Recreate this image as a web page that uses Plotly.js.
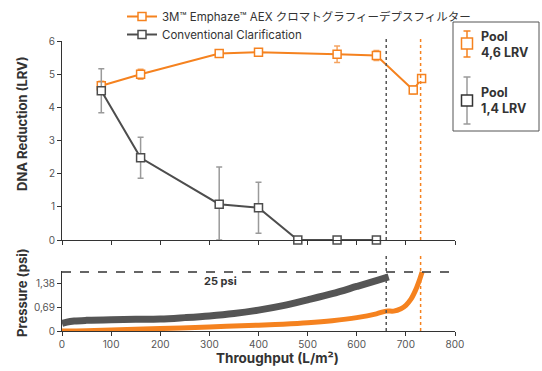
<!DOCTYPE html>
<html>
<head>
<meta charset="utf-8">
<script src="https://cdn.plot.ly/plotly-3.0.1.min.js"></script>
<style>html,body{margin:0;padding:0;background:#fff;}#chart{width:542px;height:371px;}</style>
</head>
<body>
<div id="chart"></div>
<script>
// ---- data ----
const seriesNames = ['3M™ Emphaze™ AEX クロマトグラフィーデプスフィルター', 'Conventional Clarification'];
const lrvXEmphaze = [80, 160, 320, 400, 560, 640, 715, 732];
const lrvEmphaze = [4.65, 5.0, 5.62, 5.66, 5.6, 5.56, 4.52, 4.87];
const lrvErrEmphaze = [0.14, 0.15, 0.05, 0.05, 0.25, 0.15, 0.12, 0.05];
const lrvXConv = [80, 160, 320, 400, 480, 560, 640];
const lrvConv = [4.5, 2.48, 1.08, 0.97, 0, 0, 0];
const lrvErrConv = [0.66, 0.62, 1.12, 0.77, 0, 0.1, 0];
const lrvErrConvMinus = [0.66, 0.62, 1.08, 0.77, 0, 0, 0];
const pressXConv = [0, 10, 25, 50, 100, 150, 200, 250, 300, 350, 400, 450, 500, 550, 600, 640, 665];
const pressConv = [0.22, 0.26, 0.29, 0.31, 0.33, 0.34, 0.35, 0.39, 0.44, 0.51, 0.61, 0.74, 0.91, 1.09, 1.30, 1.47, 1.58];
const pressXEmphaze = [0, 50, 100, 200, 300, 400, 450, 500, 550, 600, 640, 660, 675, 690, 700, 710, 720, 728, 733];
const pressEmphaze = [0.0, 0.01, 0.03, 0.07, 0.12, 0.17, 0.20, 0.24, 0.30, 0.39, 0.50, 0.58, 0.58, 0.65, 0.75, 0.92, 1.20, 1.50, 1.72];
const endpoints = [660, 730];           // gray, orange end-of-run throughput
const pressureLimit = 1.72;             // 25 psi in bar
const pressureLimitLabel = '25 psi';
const pressTickVals = [0, 0.69, 1.38];
const pressTickText = ['0', '0,69', '1,38'];
const poolLabels = ['Pool<br>4,6 LRV', 'Pool<br>1,4 LRV'];
const axisTitles = {lrv: 'DNA Reduction (LRV)', press: 'Pressure (psi)', x: 'Throughput (L/m²)'};

// ---- style ----
const ORANGE = '#F5821F', ORANGE_ERR = '#F5A461', GRAY = '#4D4D4D', GRAY_ERR = '#9A9A9A';
const FONT = "Inter, 'Noto Sans CJK JP', sans-serif";
const W = 542, H = 371, ML = 62, MR = 87, MT = 41, MB = 40;
const PW = W - ML - MR, PH = H - MT - MB;
const px = v => (v - ML) / PW;
const py = v => (H - MB - v) / PH;

const traces = [
  {x: lrvXEmphaze, y: lrvEmphaze, xaxis: 'x', yaxis: 'y', name: seriesNames[0], legend: 'legend', type: 'scatter', mode: 'lines+markers',
   line: {color: ORANGE, width: 2}, marker: {symbol: 'square', size: 8, color: '#fff', line: {color: ORANGE, width: 1.5}},
   error_y: {type: 'data', array: lrvErrEmphaze, color: ORANGE_ERR, thickness: 1.5, width: 3}, cliponaxis: false},
  {x: lrvXConv, y: lrvConv, xaxis: 'x', yaxis: 'y', name: seriesNames[1], legend: 'legend2', type: 'scatter', mode: 'lines+markers',
   line: {color: GRAY, width: 2}, marker: {symbol: 'square', size: 8, color: '#fff', line: {color: GRAY, width: 1.5}},
   error_y: {type: 'data', array: lrvErrConv, arrayminus: lrvErrConvMinus, color: GRAY_ERR, thickness: 1.5, width: 3}, cliponaxis: false},
  {x: pressXConv, y: pressConv, xaxis: 'x2', yaxis: 'y2', type: 'scatter', mode: 'lines', showlegend: false,
   line: {color: '#555555', width: 7, shape: 'spline'}, cliponaxis: false, hoverinfo: 'skip'},
  {x: pressXEmphaze, y: pressEmphaze, xaxis: 'x2', yaxis: 'y2', type: 'scatter', mode: 'lines', showlegend: false,
   line: {color: ORANGE, width: 5, shape: 'spline'}, cliponaxis: false, hoverinfo: 'skip'}
];
const topDomain = [py(240), 1];
const botDomain = [0, py(271)];

const shapes = [];
// dotted end lines
[[endpoints[0], '#555'], [endpoints[1], ORANGE]].forEach(([xv, c]) => {
  shapes.push({type: 'line', xref: 'x', yref: 'paper', x0: xv, x1: xv, y0: py(240), y1: py(39), line: {color: c, width: 1.5, dash: 'dot'}});
  shapes.push({type: 'line', xref: 'x2', yref: 'paper', x0: xv, x1: xv, y0: 0, y1: py(256), line: {color: c, width: 1.5, dash: 'dot'}});
});
// pressure limit dashed
shapes.push({type: 'line', xref: 'x2', yref: 'y2', x0: 0, x1: 800, y0: pressureLimit, y1: pressureLimit, line: {color: '#333', width: 1.5, dash: 'dash'}});
// right box
shapes.push({type: 'rect', xref: 'paper', yref: 'paper', x0: px(453), x1: px(539), y0: py(131), y1: py(22), line: {color: '#555', width: 1}, fillcolor: 'rgba(0,0,0,0)'});
function icon(cy, top, bot, lc, sc) {
  const cx = 467;
  shapes.push({type: 'line', xref: 'paper', yref: 'paper', x0: px(cx), x1: px(cx), y0: py(bot), y1: py(top), line: {color: lc, width: 1.5}});
  shapes.push({type: 'line', xref: 'paper', yref: 'paper', x0: px(cx - 3.5), x1: px(cx + 3.5), y0: py(top), y1: py(top), line: {color: lc, width: 1.5}});
  shapes.push({type: 'line', xref: 'paper', yref: 'paper', x0: px(cx - 3.5), x1: px(cx + 3.5), y0: py(bot), y1: py(bot), line: {color: lc, width: 1.5}});
  shapes.push({type: 'rect', xref: 'paper', yref: 'paper', x0: px(cx - 5.5), x1: px(cx + 5.5), y0: py(cy + 5.5), y1: py(cy - 5.5), line: {color: sc, width: 1.5}, fillcolor: '#fff'});
}
icon(43.5, 31, 57, ORANGE, ORANGE);
icon(100.5, 77, 124, GRAY_ERR, '#333');

const ann = (x, y, text, size, extra) => Object.assign({xref: 'paper', yref: 'paper', x: px(x), y: py(y), text: text, showarrow: false,
  xanchor: 'center', yanchor: 'middle', font: {family: FONT, size: size, color: '#333', weight: 'bold'}}, extra || {});
const annotations = [
  ann(22, 124, axisTitles.lrv, 13, {textangle: -90}),
  ann(22, 293, axisTitles.press, 13, {textangle: -90}),
  ann(277, 358, axisTitles.x, 13.5),
  {xref: 'x2', yref: 'y2', x: 322, y: 1.46, text: pressureLimitLabel, showarrow: false, xanchor: 'center', yanchor: 'middle',
   font: {family: FONT, size: 11, color: '#333', weight: 'bold'}},
  ann(479, 44, poolLabels[0], 12.5, {xanchor: 'left', align: 'left'}),
  ann(479, 100.5, poolLabels[1], 12.5, {xanchor: 'left', align: 'left'})
];

const axBase = {showgrid: false, zeroline: false, showline: true, linecolor: '#333', linewidth: 1, ticks: 'outside', ticklen: 4, tickcolor: '#333',
  tickfont: {family: FONT, size: 10, color: '#555'}};
const legBase = {xanchor: 'left', yanchor: 'top', orientation: 'v', bgcolor: 'rgba(0,0,0,0)', font: {family: FONT, size: 11.5, color: '#333'}};

const layout = {
  width: W, height: H, margin: {l: ML, r: MR, t: MT, b: MB, autoexpand: false}, paper_bgcolor: '#fff', plot_bgcolor: '#fff',
  font: {family: FONT, color: '#333'},
  xaxis: Object.assign({}, axBase, {domain: [0, 1], anchor: 'y', range: [0, 800], dtick: 100, showticklabels: false}),
  yaxis: Object.assign({}, axBase, {domain: topDomain, anchor: 'x', range: [0, 6], dtick: 1}),
  xaxis2: Object.assign({}, axBase, {domain: [0, 1], anchor: 'y2', range: [0, 800], dtick: 100}),
  yaxis2: Object.assign({}, axBase, {domain: botDomain, anchor: 'x2', range: [0, 1.75], tickvals: pressTickVals, ticktext: pressTickText}),
  showlegend: true,
  legend: Object.assign({}, legBase, {x: px(122), y: py(2)}),
  legend2: Object.assign({}, legBase, {x: px(122), y: py(20)}),
  shapes: shapes, annotations: annotations
};
Plotly.newPlot('chart', traces, layout, {displayModeBar: false, staticPlot: true});
</script>
</body>
</html>
